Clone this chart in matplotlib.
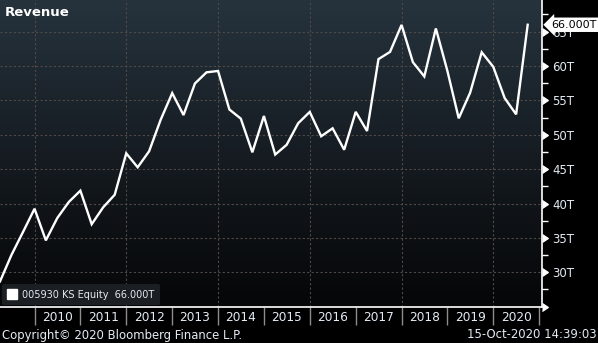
import numpy as np
import pandas as pd
import matplotlib as mpl
from matplotlib import pyplot as plt
from matplotlib import dates as mdates
from matplotlib import ticker
from matplotlib.colors import LinearSegmentedColormap
from matplotlib.lines import Line2D

# Quarterly revenue in trillions of KRW, last quarter is the preliminary number
quarters = pd.period_range('2009Q1', '2020Q3', freq='Q')
revenue = [28.67, 32.51, 35.85, 39.24,
           34.64, 37.89, 40.23, 41.87,
           36.99, 39.44, 41.27, 47.30,
           45.27, 47.60, 52.18, 56.06,
           52.87, 57.46, 59.08, 59.28,
           53.68, 52.35, 47.45, 52.73,
           47.12, 48.54, 51.68, 53.32,
           49.78, 50.94, 47.82, 53.33,
           50.55, 61.00, 62.05, 65.98,
           60.56, 58.48, 65.46, 59.27,
           52.39, 56.13, 62.00, 59.88,
           55.33, 52.97, 66.00]

ticker_name = '005930 KS Equity'
y_ticks = [25, 30, 35, 40, 45, 50, 55, 60, 65]
y_labels = ['', '30T', '35T', '40T', '45T', '50T', '55T', '60T', '65T']
year_labels = list(range(2010, 2021))
grid_years = [2010, 2012, 2014, 2016, 2018, 2020]

txt = '#e4ebf3'
grid_c = '#4f4a46'

fig = plt.figure(figsize=(5.98, 3.43), dpi=100, facecolor='black')
rect = [0, 36 / 343, 541.5 / 598, 307 / 343]

# gradient backdrop behind the plot area
bg = fig.add_axes(rect, zorder=0)
cmap = LinearSegmentedColormap.from_list('bbg', ['#26333d', '#161c22', '#050607'])
bg.imshow(np.linspace(0, 1, 256).reshape(-1, 1), cmap=cmap, aspect='auto',
          extent=[0, 1, 0, 1])
bg.axis('off')

ax = fig.add_axes(rect, zorder=1)
ax.patch.set_alpha(0)

x = quarters.end_time
ax.plot(x, revenue, color='white', lw=1.7, zorder=3, solid_joinstyle='miter')

ax.set_xlim(x[0], pd.Timestamp('2021-01-19'))
ax.set_ylim(24.95, 69.6)

# dashed grid
ax.yaxis.grid(True, color=grid_c, ls=(0, (2, 2)), lw=0.8)
for yr in grid_years:
    ax.axvline(pd.Timestamp(f'{yr}-01-01'), color=grid_c, ls=(0, (2, 2)), lw=0.8, zorder=1)

# year separators with labels centred inside each year
ax.xaxis.set_major_locator(mdates.YearLocator())
ax.xaxis.set_major_formatter(ticker.NullFormatter())
mids = [mdates.date2num(pd.Timestamp(f'{y}-07-01')) for y in year_labels]
ax.xaxis.set_minor_locator(ticker.FixedLocator(mids))
ax.xaxis.set_minor_formatter(ticker.FixedFormatter([str(y) for y in year_labels]))
ax.tick_params(axis='x', which='major', direction='out', length=13, width=1, color='#8c8c8c')
ax.tick_params(axis='x', which='minor', length=0, pad=3, labelsize=8.7, labelcolor=txt)

# value axis on the right
ax.yaxis.tick_right()
ax.set_yticks(y_ticks)
ax.set_yticklabels(y_labels)
ax.yaxis.set_minor_locator(ticker.AutoMinorLocator(2))
ax.tick_params(axis='y', which='major', length=6, pad=2, color='white', labelsize=8.5,
               labelcolor=txt)
ax.tick_params(axis='y', which='minor', length=4, width=1, color='white')
for t in ax.yaxis.get_major_ticks():
    t.tick2line.set_marker(mpl.markers.CARETRIGHTBASE)
    t.tick2line.set_markersize(5.5)
    t.tick2line.set_markerfacecolor('white')
    t.tick2line.set_markeredgecolor('white')

for s in ['top', 'left']:
    ax.spines[s].set_visible(False)
for s in ['bottom', 'right']:
    ax.spines[s].set_color('white')
    ax.spines[s].set_linewidth(1.2)

# last value tag, drawn over the 65T label
tag = ax.annotate(f'{revenue[-1]:.3f}T', xy=(1, revenue[-1]),
                  xycoords=('axes fraction', 'data'),
                  xytext=(7, 0), textcoords='offset points', ha='left', va='center',
                  fontsize=8, color='black', annotation_clip=False,
                  bbox=dict(boxstyle='larrow,pad=0.2', fc='white', ec='none'))
tag.set_zorder(10)

handle = Line2D([], [], marker='s', ls='none', color='white', markersize=7)
ax.legend([handle], [f'{ticker_name}  {revenue[-1]:.3f}T'], loc='lower left',
          bbox_to_anchor=(0.003, 0.005), frameon=True, fancybox=True,
          facecolor='#1b1e22', edgecolor='none', framealpha=1, fontsize=7,
          labelcolor=txt, handlelength=1, handletextpad=0.5, borderpad=0.6,
          borderaxespad=0)

fig.text(5 / 598, 1 - 12 / 343, 'Revenue', fontsize=9.5, fontweight='bold',
         color='white', va='center')
fig.text(2 / 598, 1 - 335 / 343, 'Copyright\u00a9 2020 Bloomberg Finance L.P.',
         fontsize=8.4, color=txt, va='center')
fig.text(597 / 598, 1 - 335 / 343, '15-Oct-2020 14:39:03', fontsize=8.4,
         color=txt, va='center', ha='right')

fig.savefig('out.png', dpi=100, facecolor='black')
